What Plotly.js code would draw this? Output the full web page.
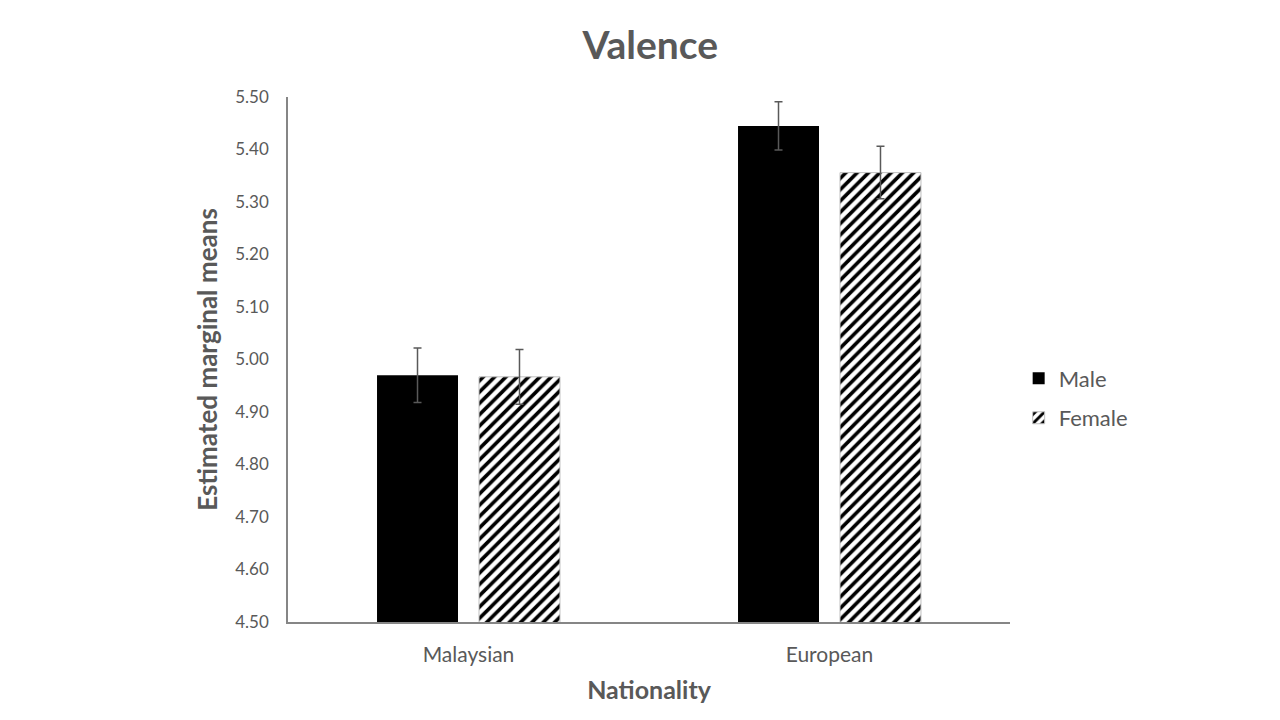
<!DOCTYPE html>
<html>
<head>
<meta charset="utf-8">
<script src="https://cdn.plot.ly/plotly-3.0.1.min.js"></script>
<style>
  html, body { margin: 0; padding: 0; background: #fff; }
  #chart { width: 1280px; height: 720px; }
</style>
</head>
<body>
<div id="chart"></div>
<script>
const nationalities = ['Malaysian', 'European']
const maleMeans = [4.970, 5.445]
const maleErrors = [0.052, 0.046]
const femaleMeans = [4.967, 5.356]
const femaleErrors = [0.052, 0.050]
const yTicks = [4.5, 4.6, 4.7, 4.8, 4.9, 5.0, 5.1, 5.2, 5.3, 5.4, 5.5]

const textColor = '#595959'
const axisColor = '#868686'
const font = 'Lato, "Open Sans", sans-serif'

function errorBars(values) {
    return {
        type: 'data',
        array: values,
        visible: true,
        color: textColor,
        thickness: 1.5,
        width: 4
    }
}

const data = [
    {
        type: 'bar',
        name: 'Male',
        legendgroup: 'male',
        x: nationalities,
        y: maleMeans,
        error_y: errorBars(maleErrors),
        marker: { color: '#000000', line: { color: '#000000', width: 0 } }
    },
    {
        type: 'bar',
        name: 'Female',
        legendgroup: 'female',
        x: nationalities,
        y: femaleMeans,
        error_y: errorBars(femaleErrors),
        marker: {
            color: '#ffffff',
            line: { color: '#bfbfbf', width: 1 },
            pattern: { shape: '/', fgcolor: '#000000', bgcolor: '#ffffff', size: 8, solidity: 0.45 }
        }
    }
]

const layout = {
    width: 1280,
    height: 720,
    paper_bgcolor: '#ffffff',
    plot_bgcolor: '#ffffff',
    margin: { l: 288, r: 270, t: 97, b: 98, pad: 0 },
    font: { family: font, color: textColor, size: 17 },
    title: {
        text: '<b>Valence</b>',
        font: { family: font, size: 39, color: textColor },
        x: 0.508,
        xanchor: 'center',
        y: 0.937,
        yanchor: 'middle'
    },
    barmode: 'group',
    bargap: 0.435,
    bargroupgap: 0.206,
    showlegend: true,
    legend: {
        x: 1.012,
        xanchor: 'left',
        y: 0.426,
        yanchor: 'middle',
        font: { family: font, size: 22, color: textColor },
        traceorder: 'grouped',
        tracegroupgap: 8,
        itemwidth: 30
    },
    xaxis: {
        showline: true,
        linecolor: axisColor,
        linewidth: 2,
        ticks: '',
        showgrid: false,
        zeroline: false,
        tickfont: { family: font, size: 21, color: textColor },
        ticklabelstandoff: 13,
        title: {
            text: '<b>Nationality</b>',
            font: { family: font, size: 25, color: textColor },
            standoff: 16
        }
    },
    yaxis: {
        range: [4.5, 5.5],
        tickvals: yTicks,
        tickformat: '.2f',
        showline: true,
        linecolor: axisColor,
        linewidth: 1.5,
        ticks: '',
        showgrid: false,
        zeroline: false,
        tickfont: { family: font, size: 17, color: textColor },
        ticklabelstandoff: 14,
        title: {
            text: '<b>Estimated marginal means</b>',
            font: { family: font, size: 26, color: textColor },
            standoff: 10
        }
    }
}

Plotly.newPlot('chart', data, layout, { displayModeBar: false, responsive: false })
</script>
</body>
</html>
